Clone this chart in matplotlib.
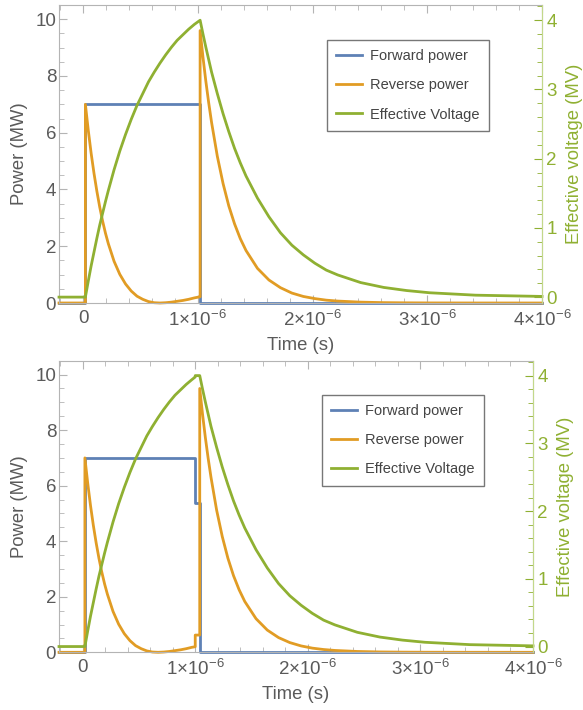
import numpy as np
import matplotlib.pyplot as plt
from matplotlib.ticker import MultipleLocator, FixedLocator

plt.rcParams['font.family'] = ['Liberation Sans', 'DejaVu Sans']
plt.rcParams['mathtext.fontset'] = 'custom'
plt.rcParams['mathtext.rm'] = 'Liberation Sans'
plt.rcParams['mathtext.it'] = 'Liberation Sans:italic'

BLUE = '#5e81b5'
ORANGE = '#e19c24'
GREEN = '#8fb032'
GRID = '#b4b4b4'
TXT = '#5a5a5a'

# time axis in microseconds
pre_t = [-0.21, 0.02]
pre_v = [0.0, 0.0]

fill_t = [0.02, 0.045, 0.07, 0.095, 0.12, 0.145, 0.17, 0.195, 0.22, 0.27, 0.32,
          0.37, 0.42, 0.47, 0.52, 0.57, 0.62, 0.67, 0.72, 0.77, 0.82, 0.87, 0.92, 0.97]
fill_rev = [7.0, 6.09, 5.28, 4.57, 3.94, 3.38, 2.89, 2.46, 2.09, 1.47, 1.01,
            0.67, 0.42, 0.24, 0.13, 0.05, 0.01, 0.0, 0.01, 0.03, 0.06, 0.09, 0.13, 0.18]
fill_volt = [0.0, 0.23, 0.45, 0.65, 0.85, 1.04, 1.21, 1.38, 1.54, 1.84, 2.11,
             2.35, 2.57, 2.77, 2.94, 3.11, 3.25, 3.38, 3.50, 3.61, 3.71, 3.79, 3.87, 3.94]

# panel 1 (plain switch-off)
top_fwd_t = [-0.21, 0.02, 0.02, 1.02, 1.02, 4.0]
top_fwd_p = [0, 0, 7, 7, 0, 0]
top_end_t = [1.02, 1.02]
top_end_rev = [0.22, 9.6]
top_end_volt = [4.0, 4.0]
top_decay_t = [1.045, 1.07, 1.095, 1.12, 1.17, 1.22, 1.27, 1.32, 1.37, 1.42, 1.52, 1.62,
               1.72, 1.82, 1.92, 2.02, 2.12, 2.22, 2.42, 2.62, 2.82, 3.02, 3.42, 4.0]
top_decay_rev = [8.66, 7.81, 7.05, 6.36, 5.17, 4.21, 3.42, 2.79, 2.27, 1.85, 1.22, 0.81,
                 0.54, 0.35, 0.23, 0.155, 0.10, 0.068, 0.03, 0.013, 0.006, 0.0025, 0.0005, 0.0]
top_decay_volt = [3.80, 3.61, 3.43, 3.25, 2.94, 2.65, 2.39, 2.15, 1.94, 1.75, 1.43, 1.16,
                  0.93, 0.75, 0.61, 0.49, 0.39, 0.32, 0.21, 0.14, 0.095, 0.063, 0.028, 0.01]

# panel 2 (reduced power step before switch-off)
bot_fwd_t = [-0.21, 0.02, 0.02, 1.0, 1.0, 1.04, 1.04, 4.0]
bot_fwd_p = [0, 0, 7, 7, 5.37, 5.37, 0, 0]
bot_end_t = [1.0, 1.0, 1.04, 1.04]
bot_end_rev = [0.20, 0.62, 0.62, 9.5]
bot_end_volt = [3.98, 4.0, 4.0, 4.0]
bot_decay_t = [1.065, 1.09, 1.115, 1.14, 1.19, 1.24, 1.29, 1.34, 1.39, 1.44, 1.54, 1.64,
               1.74, 1.84, 1.94, 2.04, 2.14, 2.24, 2.44, 2.64, 2.84, 3.04, 3.44, 4.0]
bot_decay_rev = [8.57, 7.73, 6.98, 6.30, 5.12, 4.17, 3.39, 2.76, 2.25, 1.83, 1.21, 0.80,
                 0.53, 0.35, 0.23, 0.15, 0.10, 0.067, 0.03, 0.013, 0.006, 0.0025, 0.0005, 0.0]
bot_decay_volt = [3.80, 3.61, 3.43, 3.25, 2.94, 2.65, 2.39, 2.15, 1.94, 1.75, 1.43, 1.16,
                  0.93, 0.75, 0.61, 0.49, 0.39, 0.32, 0.21, 0.14, 0.095, 0.063, 0.028, 0.01]

xticks = [0, 1, 2, 3, 4]
xlabels = ['0', '1×10$^{-6}$', '2×10$^{-6}$', '3×10$^{-6}$', '4×10$^{-6}$']


def panel(rect, fwd_t, fwd_p, end_t, end_rev, end_volt, dec_t, dec_rev, dec_volt):
    ax = fig.add_axes(rect)
    ax2 = ax.twinx()
    rev_t = pre_t + fill_t + end_t + dec_t
    rev_p = pre_v + fill_rev + end_rev + dec_rev
    v_t = pre_t + fill_t + end_t + dec_t
    v_v = pre_v + fill_volt + end_volt + dec_volt
    l1, = ax.plot(fwd_t, fwd_p, color=BLUE, lw=2.0, clip_on=False, label='Forward power')
    l2, = ax.plot(rev_t, rev_p, color=ORANGE, lw=2.0, clip_on=False, label='Reverse power')
    l3, = ax2.plot(v_t, v_v, color=GREEN, lw=2.0, clip_on=False, label='Effective Voltage')

    ax.set_xlim(-0.21, 4.0)
    ax.set_ylim(0, 10.5)
    ax2.set_ylim(-0.085, 4.22)

    ax.xaxis.set_major_locator(FixedLocator(xticks))
    ax.set_xticklabels(xlabels)
    ax.xaxis.set_minor_locator(MultipleLocator(0.2))
    ax.yaxis.set_major_locator(MultipleLocator(2))
    ax.yaxis.set_minor_locator(MultipleLocator(0.5))
    ax2.yaxis.set_major_locator(MultipleLocator(1))
    ax2.yaxis.set_minor_locator(MultipleLocator(0.2))

    for s in ax.spines.values():
        s.set_color(GRID)
    for s in ax2.spines.values():
        s.set_visible(False)
    ax2.spines['right'].set_visible(True)
    ax2.spines['right'].set_color('#c3d88a')

    ax.tick_params(which='both', direction='in', top=True, right=False,
                   color=GRID, labelcolor=TXT, labelsize=13.5)
    ax.tick_params(which='major', length=6)
    ax.tick_params(which='minor', length=3.5)
    ax.tick_params(axis='x', pad=5)
    ax.tick_params(axis='y', pad=2)
    ax2.tick_params(which='both', direction='in', color=GREEN, labelcolor=GREEN,
                    labelsize=13.5, pad=3)
    ax2.tick_params(which='major', length=6)
    ax2.tick_params(which='minor', length=3.5)

    ax.set_xlabel('Time (s)', fontsize=13.3, color=TXT, labelpad=5)
    ax.set_ylabel('Power (MW)', fontsize=13.3, color=TXT, labelpad=5)
    ax2.set_ylabel('Effective voltage (MV)', fontsize=13.3, color=GREEN, labelpad=7)

    leg = ax2.legend([l1, l2, l3], [l1.get_label(), l2.get_label(), l3.get_label()],
                     loc='upper left', bbox_to_anchor=(0.555, 0.883), borderaxespad=0,
                     fontsize=10.5, frameon=True, fancybox=False, handlelength=1.8,
                     handletextpad=0.55, labelspacing=1.05, borderpad=0.62,
                     labelcolor='#444444')
    leg.get_frame().set_edgecolor('#555555')
    leg.get_frame().set_linewidth(1.0)
    return ax


fig = plt.figure(figsize=(5.83, 7.10), dpi=100)
panel([59 / 583, 407 / 710, 483 / 583, 298 / 710],
      top_fwd_t, top_fwd_p, top_end_t, top_end_rev, top_end_volt,
      top_decay_t, top_decay_rev, top_decay_volt)
panel([59 / 583, 57.7 / 710, 474 / 583, 291.6 / 710],
      bot_fwd_t, bot_fwd_p, bot_end_t, bot_end_rev, bot_end_volt,
      bot_decay_t, bot_decay_rev, bot_decay_volt)

fig.savefig('out.png', dpi=100)
